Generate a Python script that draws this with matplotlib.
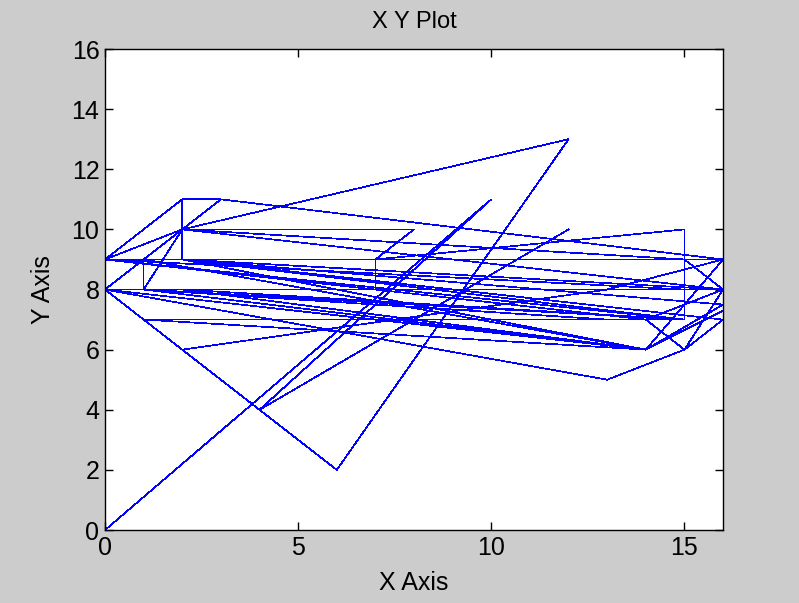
import matplotlib
matplotlib.use("Agg")
import matplotlib.pyplot as plt


# short stroke from the origin
X_SHORT = [0, 10, 4, 12]
Y_SHORT = [0, 11, 4, 10]

# main scribble, vertices joined in order
X_MAIN = [
    0, 6, 12, 2, 8, 7, 7, 16,
    0, 1, 1, 15, 15, 7, 16, 0,
    2, 3, 16, 14, 0, 2, 3, 2,
    2, 15, 1, 14, 1, 2, 16, 14,
    0, 15, 1, 16, 15, 13, 0, 14,
    16, 2, 16, 0, 1, 14, 2, 15,
    0, 2, 15, 16, 1, 13, 1, 2,
    13, 16, 0, 14, 15, 16, 2, 14,
    16,
]
Y_MAIN = [
    8, 2, 13, 10, 10, 9, 8, 8,
    8, 9, 8, 7, 10, 9, 9, 9,
    11, 11, 9, 6, 8, 10, 11, 11,
    9, 7, 7, 6, 8, 10, 8, 7,
    9, 8, 8, 8, 6, 5, 8, 6,
    7.5, 9, 8, 8, 9, 6, 8, 7,
    9, 10, 9, 8, 8, 7, 7, 6,
    8, 9, 9, 7, 6, 7, 9, 6,
    7.3,
]

X_TICKS = [0, 5, 10, 15]
Y_TICKS = list(range(0, 17, 2))

FONT = ["Liberation Sans", "DejaVu Sans"]

fig = plt.figure(figsize=(7.99, 6.03), dpi=100, facecolor="#cccccc")
ax = fig.add_axes([0.1314, 0.121, 0.7736, 0.7977])

ax.plot(X_MAIN, Y_MAIN, color="#0000ff", linewidth=0.5, antialiased=False)
ax.plot(X_SHORT, Y_SHORT, color="#0000ff", linewidth=0.5, antialiased=False)

ax.set_xlim(0, 16)
ax.set_ylim(0, 16)
ax.set_xticks(X_TICKS)
ax.set_yticks(Y_TICKS)
ax.tick_params(direction="in", length=6, width=1, top=True, right=True,
               labelsize=18, colors="black", pad=4)
for label in ax.get_xticklabels() + ax.get_yticklabels():
    label.set_family(FONT)
for spine in ax.spines.values():
    spine.set_linewidth(1)

ax.set_title("X Y Plot", fontsize=17, family=FONT, pad=15)
ax.set_xlabel("X Axis", fontsize=18, family=FONT, labelpad=8)
ax.set_ylabel("Y Axis", fontsize=18, family=FONT, labelpad=12)

fig.savefig("out.png", dpi=100, facecolor=fig.get_facecolor())
